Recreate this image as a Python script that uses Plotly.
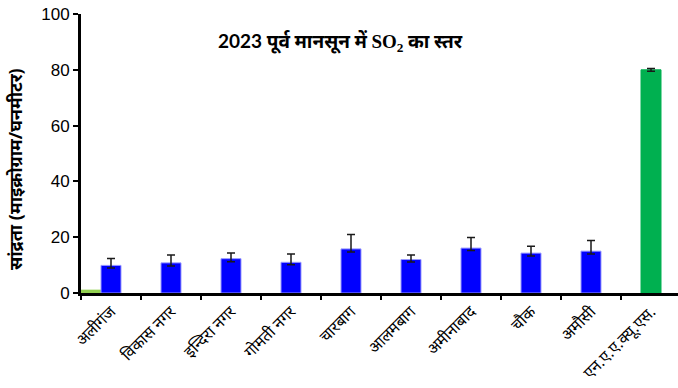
import plotly.graph_objects as go

# Monitoring stations (last entry is the national standard)
stations = ["अलीगंज", "विकास नगर", "इन्दिरा नगर", "गोमती नगर", "चारबाग",
            "आलमबाग", "अमीनाबाद", "चौक", "अमौसी", "एन.ए.ए.क्यू.एस."]

# Mean SO2 concentration (µg/m³) and error-bar extents
so2_mean = [9.9, 10.8, 12.3, 11.0, 15.8, 12.0, 16.1, 14.3, 15.0, 80.0]
err_plus = [2.5, 2.8, 2.0, 3.0, 5.2, 1.6, 3.8, 2.5, 3.8, 0.5]
err_minus = [0.9, 1.1, 1.1, 0.9, 1.1, 0.9, 0.9, 1.0, 1.0, 0.5]

# Small secondary series shown only at the first station
secondary = [1.2, None, None, None, None, None, None, None, None, None]

y_ticks = [0, 20, 40, 60, 80, 100]

bar_colors = ["#0000ff"] * 9 + ["#00b050"]
edge_colors = ["#9999ff"] * 9 + ["#00b050"]

fig = go.Figure()

fig.add_trace(go.Bar(
    x=stations, y=secondary,
    width=1/3, offset=-0.5,
    marker=dict(color="#92d050", line=dict(width=0)),
    showlegend=False, hoverinfo="skip",
))

fig.add_trace(go.Bar(
    x=stations, y=so2_mean,
    width=1/3,
    marker=dict(color=bar_colors, line=dict(color=edge_colors, width=1)),
    error_y=dict(type="data", symmetric=False, array=err_plus,
                 arrayminus=err_minus, color="#1a1a1a",
                 thickness=1.5, width=4),
    showlegend=False,
))

fig.update_layout(
    width=678, height=388,
    margin=dict(l=81, r=0, t=14, b=95),
    paper_bgcolor="white", plot_bgcolor="white",
    barmode="overlay",
    font=dict(family="Liberation Sans, Arial, sans-serif", color="black"),
    xaxis=dict(
        type="category", range=[-0.5, 9.45],
        showline=True, linecolor="black", linewidth=3,
        ticks="outside", tickson="boundaries", ticklen=4, tickwidth=2,
        tickcolor="black", tickangle=-45,
        tickfont=dict(size=16, family="Noto Sans, sans-serif"),
        showgrid=False, zeroline=False,
    ),
    yaxis=dict(
        range=[0, 100], tickvals=y_ticks,
        showline=True, linecolor="black", linewidth=3,
        ticks="outside", ticklen=5, tickwidth=2, tickcolor="black",
        tickfont=dict(size=17, family="Liberation Sans, Arial, sans-serif"),
        showgrid=False, zeroline=False,
    ),
    annotations=[
        dict(
            text=("<b>2023 पूर्व मानसून में "
                  "<span style='font-family:Liberation Serif'>SO<sub>2</sub></span>"
                  " का स्तर</b>"),
            xref="paper", yref="paper", x=(340 - 81) / 597, y=(293 - 42) / 279,
            xanchor="center", yanchor="middle", showarrow=False,
            font=dict(size=19, family="Lato, Noto Sans, sans-serif", color="black"),
        ),
        dict(
            text="<b>सांद्रता (माइक्रोग्राम/घनमीटर)</b>",
            xref="paper", yref="paper", x=(15 - 81) / 597, y=(293 - 169) / 279,
            xanchor="center", yanchor="middle", textangle=-90, showarrow=False,
            font=dict(size=18, family="Noto Sans, sans-serif", color="black"),
        ),
    ],
)

fig.write_html("out.html")
